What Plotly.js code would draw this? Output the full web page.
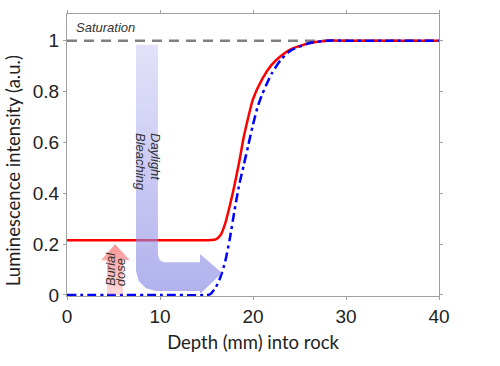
<!DOCTYPE html>
<html>
<head>
<meta charset="utf-8">
<script src="https://cdn.plot.ly/plotly-3.0.1.min.js"></script>
<style>
  html, body { margin: 0; padding: 0; background: #fff; }
  #chart { width: 500px; height: 366px; }
</style>
</head>
<body>
<div id="chart"></div>
<script>
// Depth into rock (mm) and luminescence (a.u.)
const redDepth = [0, 5, 10, 15, 15.5, 16, 16.5, 17, 17.5, 18, 18.5, 19, 19.5, 20, 21, 22, 23, 24, 26, 28, 30, 35, 40];
const redLum   = [0.215, 0.215, 0.215, 0.215, 0.216, 0.219, 0.235, 0.28, 0.35, 0.43, 0.52, 0.62, 0.70, 0.77, 0.85, 0.905, 0.94, 0.965, 0.99, 1, 1, 1, 1];

const blueDepth = [0, 5, 10, 15, 15.4, 16, 16.5, 17, 17.5, 18, 18.5, 19, 19.5, 20, 20.5, 21, 22, 23, 24, 26, 28, 30, 35, 40];
const blueLum   = [0, 0, 0, 0, 0.003, 0.03, 0.07, 0.13, 0.22, 0.33, 0.43, 0.51, 0.59, 0.67, 0.74, 0.79, 0.87, 0.925, 0.96, 0.99, 1, 1, 1, 1];

const satDepth = [0, 40];
const satLum   = [1, 1];

const xTicks = [0, 10, 20, 30, 40];
const yTicks = [0, 0.2, 0.4, 0.6, 0.8, 1];
const yTickText = ["0", "0.2", "0.4", "0.6", "0.8", "1"];

// Outline of the "Daylight Bleaching" L-arrow and the "Burial dose" arrow
const bleachX = [7.42, 9.78, 9.78, 9.95, 10.4, 14.3, 14.3, 16.67, 14.3, 14.3, 9.57, 8.49, 7.71, 7.42, 7.42];
const bleachY = [0.984, 0.984, 0.16, 0.138, 0.129, 0.129, 0.161, 0.086, 0.004, 0.016, 0.016, 0.026, 0.055, 0.094, 0.984];

const burialX = [4.30, 4.30, 3.66, 5.16, 6.77, 6.02, 6.02, 4.30];
const burialY = [0, 0.137, 0.137, 0.2, 0.137, 0.137, 0, 0];

const labelFont = { family: "Liberation Sans, Arial, sans-serif", size: 13, color: "#333" };
const titleFont = { family: "Lato, sans-serif", size: 18.5, color: "#222" };

const traces = [
    {
        x: satDepth, y: satLum, mode: "lines", type: "scatter",
        line: { color: "#808080", width: 2.5, dash: "10px,7px" },
        hoverinfo: "skip", showlegend: false,
    },
    {
        x: redDepth, y: redLum, mode: "lines", type: "scatter",
        line: { color: "#ff0000", width: 2.5, shape: "spline", smoothing: 0.6 },
        name: "Burial", showlegend: false,
    },
    {
        x: blueDepth, y: blueLum, mode: "lines", type: "scatter",
        line: { color: "#0000ff", width: 2.5, shape: "spline", smoothing: 0.6, dash: "9px,4px,3px,4px" },
        name: "Bleached", showlegend: false,
    },
    {
        x: bleachX, y: bleachY, mode: "lines", type: "scatter",
        fill: "toself",
        fillgradient: {
            type: "vertical",
            colorscale: [[0, "rgba(140,140,230,0.68)"], [1, "rgba(150,150,232,0.28)"]],
        },
        line: { width: 0 },
        hoverinfo: "skip", showlegend: false,
    },
    {
        x: burialX, y: burialY, mode: "lines", type: "scatter",
        fill: "toself",
        fillgradient: {
            type: "vertical",
            colorscale: [[0, "rgba(245,110,110,0.25)"], [1, "rgba(245,90,90,0.65)"]],
        },
        line: { width: 0 },
        hoverinfo: "skip", showlegend: false,
    },
];

const axisCommon = {
    showline: true, linecolor: "#a0a0a0", linewidth: 1.2, mirror: "ticks",
    ticks: "outside", ticklen: 3, tickcolor: "#a0a0a0",
    showgrid: false, zeroline: false,
    tickfont: { family: "Liberation Sans, Arial, sans-serif", size: 19, color: "#222" },
};

const layout = {
    width: 500, height: 366,
    margin: { t: 14, b: 70, l: 67, r: 61 },
    paper_bgcolor: "#fff",
    plot_bgcolor: "#fff",
    xaxis: {
        ...axisCommon,
        range: [0, 40],
        tickvals: xTicks,
        title: { text: "Depth (mm) into rock", font: titleFont, standoff: 10 },
    },
    yaxis: {
        ...axisCommon,
        range: [-0.004, 1.105],
        tickvals: yTicks,
        ticktext: yTickText,
    },
    annotations: [
        {
            x: -0.145, y: 0.443, xref: "paper", yref: "paper",
            xanchor: "center", yanchor: "middle",
            text: "Luminescence intensity (a.u.)", showarrow: false, textangle: -90,
            font: titleFont,
        },
        {
            x: 0.7, y: 1.052, xref: "x", yref: "y", xanchor: "left", yanchor: "middle",
            text: "<i>Saturation</i>", showarrow: false, font: labelFont,
        },
        {
            x: 9.46, y: 0.645, xref: "x", yref: "y", yanchor: "top",
            text: "<i>Daylight</i>", showarrow: false, textangle: 90, font: labelFont,
        },
        {
            x: 7.85, y: 0.645, xref: "x", yref: "y", yanchor: "top",
            text: "<i>Bleaching</i>", showarrow: false, textangle: 90, font: labelFont,
        },
        {
            x: 4.62, y: 0.027, xref: "x", yref: "y", yanchor: "bottom",
            text: "<i>Burial</i>", showarrow: false, textangle: -90, font: labelFont,
        },
        {
            x: 5.72, y: 0.027, xref: "x", yref: "y", yanchor: "bottom",
            text: "<i>dose</i>", showarrow: false, textangle: -90, font: labelFont,
        },
    ],
};

Plotly.newPlot("chart", traces, layout, { displayModeBar: false, responsive: false });
</script>
</body>
</html>
